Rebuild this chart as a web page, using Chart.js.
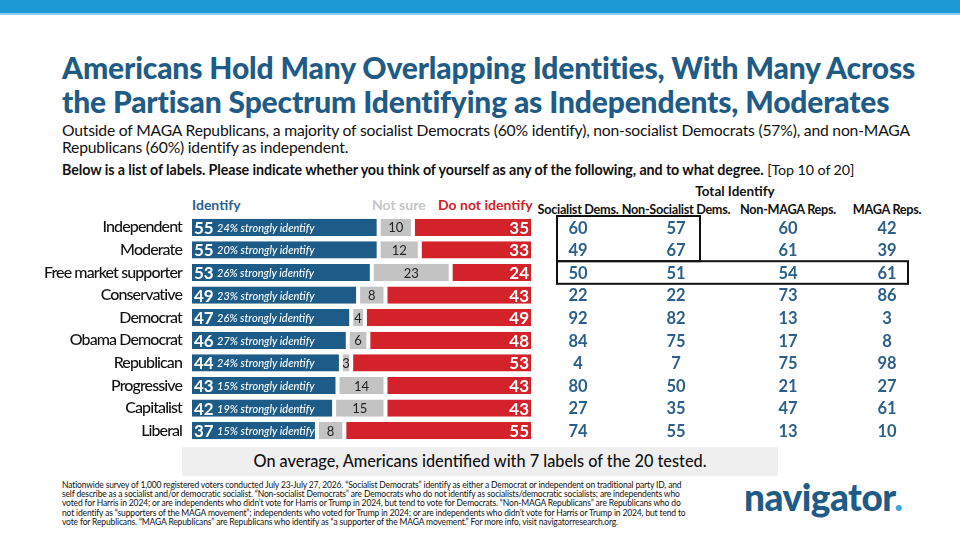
<!DOCTYPE html>
<html>
<head>
<meta charset="utf-8">
<script src="https://cdn.jsdelivr.net/npm/chart.js@4.4.1/dist/chart.umd.min.js"></script>
<style>
  html,body{margin:0;padding:0;background:#fff;}
  body{width:960px;height:540px;position:relative;overflow:hidden;font-family:Lato,"Open Sans",sans-serif;}
  .abs{position:absolute;white-space:nowrap;}
  #topbar{left:0;top:0;width:960px;height:13px;background:#1b9ad6;}
  #topline{left:0;top:13px;width:960px;height:2px;background:#8ccbea;}
  #title{left:62px;top:50px;font-size:30px;font-weight:900;color:#1e5b86;line-height:34px;letter-spacing:-0.15px;}
  #sub{left:62px;top:122px;font-size:15.7px;color:#111;line-height:17px;letter-spacing:-0.2px;}
  #q{left:62px;top:161px;font-size:14.3px;color:#111;letter-spacing:-0.1px;}
  #q b{font-weight:700;}
  .hdr{top:196px;font-size:14px;font-weight:700;}
  #totalId{left:690px;top:183px;font-size:13.5px;font-weight:700;color:#111;width:90px;text-align:center;}
  .colh{top:201px;font-size:12.7px;font-weight:700;color:#111;text-align:center;letter-spacing:-0.3px;}
  #avgbox{left:182px;top:447px;width:596px;height:29px;background:#efefef;}
  #avgtxt{left:182px;top:451px;width:596px;text-align:center;font-size:16.3px;color:#111;font-weight:500;}
  #foot{left:62px;top:481px;font-size:8.5px;line-height:9.2px;color:#111;letter-spacing:-0.15px;}
  #logo{left:744px;top:474px;font-size:37px;font-weight:900;color:#1e5b86;letter-spacing:-0.5px;}
  #logo span{color:#3aa7dd;}
  #c{position:absolute;left:0;top:0;}
</style>
</head>
<body>
<div class="abs" id="topbar"></div>
<div class="abs" id="topline"></div>
<div class="abs" id="title">Americans Hold Many Overlapping Identities, With Many Across<br>the Partisan Spectrum Identifying as Independents, Moderates</div>
<div class="abs" id="sub">Outside of MAGA Republicans, a majority of socialist Democrats (60% identify), non-socialist Democrats (57%), and non-MAGA<br>Republicans (60%) identify as independent.</div>
<div class="abs" id="q"><b>Below is a list of labels. Please indicate whether you think of yourself as any of the following, and to what degree.</b> [Top 10 of 20]</div>
<div class="abs hdr" style="left:192px;color:#2a6393;">Identify</div>
<div class="abs hdr" style="left:372px;color:#c6c6c6;">Not sure</div>
<div class="abs hdr" style="left:438px;color:#d2232a;">Do not identify</div>
<div class="abs" id="totalId">Total Identify</div>
<div class="abs colh" style="left:534px;width:88px;">Socialist Dems.</div>
<div class="abs colh" style="left:620px;width:112px;">Non-Socialist Dems.</div>
<div class="abs colh" style="left:736px;width:104px;">Non-MAGA Reps.</div>
<div class="abs colh" style="left:848px;width:78px;">MAGA Reps.</div>
<div class="abs" id="avgbox"></div>
<div class="abs" id="avgtxt">On average, Americans identified with 7 labels of the 20 tested.</div>
<div class="abs" id="foot">Nationwide survey of 1,000 registered voters conducted July 23-July 27, 2026. “Socialist Democrats” identify as either a Democrat or independent on traditional party ID, and<br>self describe as a socialist and/or democratic socialist. “Non-socialist Democrats” are Democrats who do not identify as socialists/democratic socialists; are independents who<br>voted for Harris in 2024; or are independents who didn’t vote for Harris or Trump in 2024, but tend to vote for Democrats. “Non-MAGA Republicans” are Republicans who do<br>not identify as “supporters of the MAGA movement”; independents who voted for Trump in 2024; or are independents who didn’t vote for Harris or Trump in 2024, but tend to<br>vote for Republicans. “MAGA Republicans” are Republicans who identify as “a supporter of the MAGA movement.” For more info, visit navigatorresearch.org.</div>
<div class="abs" id="logo">navigator<span>.</span></div>
<canvas id="c" width="960" height="540"></canvas>
<script>
const categories = ["Independent","Moderate","Free market supporter","Conservative","Democrat","Obama Democrat","Republican","Progressive","Capitalist","Liberal"];
const identify = [55,55,53,49,47,46,44,43,42,37];
const notSure = [10,12,23,8,4,6,3,14,15,8];
const doNotIdentify = [35,33,24,43,49,48,53,43,43,55];
const strongly = [24,20,26,23,26,27,24,15,19,15];
const socialistDems = [60,49,50,22,92,84,4,80,27,74];
const nonSocialistDems = [57,67,51,22,82,75,7,50,35,55];
const nonMagaReps = [60,61,54,73,13,17,75,21,47,13];
const magaReps = [42,39,61,86,3,8,98,27,61,10];

const BLUE = "#1d5b88", GRAY = "#c3c3c3", RED = "#d3222a", TBL = "#2c5f8c";
const FONT = "Lato, 'Open Sans', sans-serif";
const tableCols = [
  {data: socialistDems, x: 578},
  {data: nonSocialistDems, x: 676},
  {data: nonMagaReps, x: 788},
  {data: magaReps, x: 887}
];

const condensePlugin = {
  id: "condense",
  beforeDraw(chart) { chart.ctx.letterSpacing = "-0.9px"; },
  beforeDatasetsDraw(chart) { chart.ctx.letterSpacing = "0px"; }
};

const labelPlugin = {
  id: "labels",
  afterDatasetsDraw(chart) {
    const ctx = chart.ctx;
    const y = chart.scales.y;
    const mB = chart.getDatasetMeta(0).data;
    const mG = chart.getDatasetMeta(1).data;
    const mR = chart.getDatasetMeta(2).data;
    ctx.save();
    ctx.letterSpacing = "0px";
    ctx.textBaseline = "middle";
    categories.forEach((c, i) => {
      const b = mB[i], g = mG[i], r = mR[i];
      const left = Math.min(b.base, b.x);
      ctx.fillStyle = "#fff";
      ctx.textAlign = "left";
      ctx.font = "700 17px " + FONT;
      ctx.fillText(String(identify[i]), left + 4, b.y + 1);
      ctx.font = "italic 500 11px " + FONT;
      ctx.fillText(strongly[i] + "% strongly identify", left + 27, b.y + 1);
      ctx.fillStyle = "#222";
      ctx.textAlign = "center";
      ctx.font = "400 13px " + FONT;
      ctx.fillText(String(notSure[i]), (g.x + g.base) / 2, g.y + 1);
      ctx.fillStyle = "#fff";
      ctx.textAlign = "right";
      ctx.font = "700 17px " + FONT;
      ctx.fillText(String(doNotIdentify[i]), Math.max(r.x, r.base) - 4, r.y + 1);
      ctx.fillStyle = TBL;
      ctx.textAlign = "center";
      ctx.font = "700 16.5px " + FONT;
      tableCols.forEach(col => ctx.fillText(String(col.data[i]), col.x, y.getPixelForValue(i) + 1));
    });
    const half = (y.getPixelForValue(1) - y.getPixelForValue(0)) / 2;
    ctx.strokeStyle = "#111";
    ctx.lineWidth = 2;
    const t0 = y.getPixelForValue(0) - half, b1 = y.getPixelForValue(1) + half;
    ctx.strokeRect(557, t0, 143, b1 - t0);
    const t2 = y.getPixelForValue(2) - half, b2 = y.getPixelForValue(2) + half;
    ctx.strokeRect(557, t2, 351, b2 - t2);
    ctx.restore();
  }
};

new Chart(document.getElementById("c"), {
  type: "bar",
  data: {
    labels: categories,
    datasets: [
      {label: "Identify", data: identify, backgroundColor: BLUE},
      {label: "Not sure", data: notSure, backgroundColor: GRAY},
      {label: "Do not identify", data: doNotIdentify, backgroundColor: RED}
    ]
  },
  options: {
    indexAxis: "y",
    responsive: false,
    animation: false,
    events: [],
    layout: {padding: {left: 0, right: 427, top: 216, bottom: 98}},
    datasets: {bar: {
      categoryPercentage: 1, barPercentage: 0.76,
      borderColor: "#fff", borderWidth: {left: 2, right: 2, top: 0, bottom: 0}, borderSkipped: false
    }},
    plugins: {legend: {display: false}, tooltip: {enabled: false}},
    scales: {
      x: {stacked: true, min: 0, max: 100, display: false},
      y: {
        stacked: true,
        grid: {display: false, drawTicks: false},
        border: {display: false},
        ticks: {padding: 8, color: "#111", font: {family: FONT, size: 16, weight: "500"}},
        afterFit(s) { s.width = 190; }
      }
    }
  },
  plugins: [condensePlugin, labelPlugin]
});
</script>
</body>
</html>
